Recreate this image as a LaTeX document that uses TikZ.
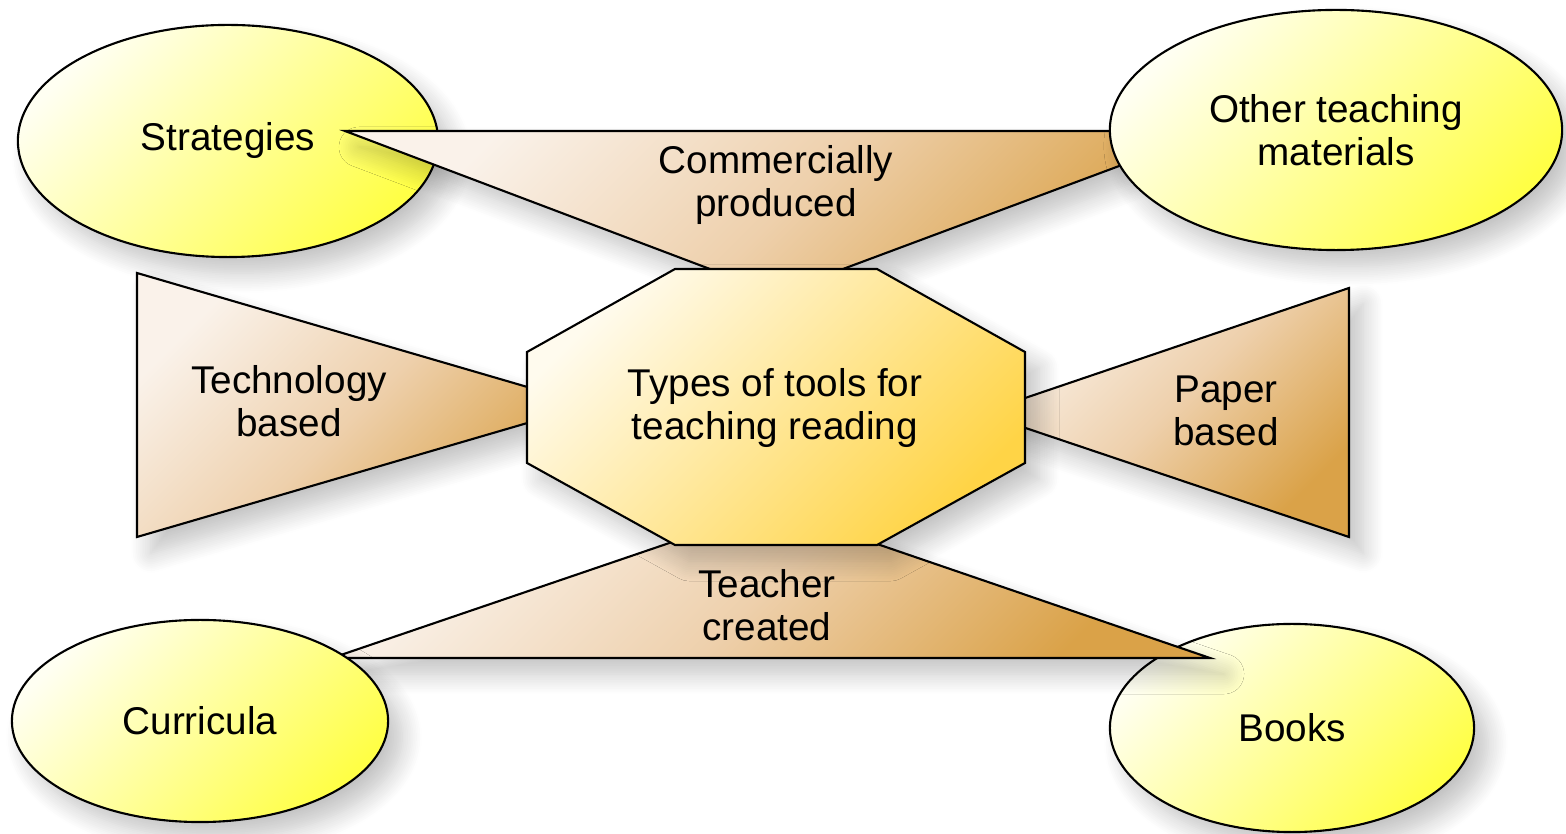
\documentclass[tikz,border=0pt]{standalone}
\usepackage{fontspec}
\setmainfont{Liberation Sans}
\usetikzlibrary{shapes.geometric, shadows.blur}

\definecolor{elllight}{RGB}{255,255,242}
\definecolor{elldark}{RGB}{255,255,70}
\definecolor{tanlight}{RGB}{250,242,234}
\definecolor{tanmid}{RGB}{238,208,172}
\definecolor{tandark}{RGB}{218,162,72}
\definecolor{octlight}{RGB}{255,251,238}
\definecolor{octdark}{RGB}{255,212,70}

\begin{document}
\begin{tikzpicture}[x=0.01cm, y=-0.01cm,
  every node/.style={font=\fontsize{11}{12.3}\selectfont, align=center, text=black},
  softshadow/.style={blur shadow={shadow xshift=1.4mm, shadow yshift=-1.6mm, shadow blur radius=2mm, shadow blur steps=12, shadow opacity=24}},
  bubble/.style={ellipse, draw=black, line width=0.6pt, inner sep=0pt,
    top color=elllight, bottom color=elldark, shading angle=45, softshadow},
  wedge/.style={draw=black, line width=0.6pt,
    top color=tanlight, bottom color=tandark, middle color=tanmid, shading angle=45, softshadow},
  hub/.style={draw=black, line width=0.6pt,
    top color=octlight, bottom color=octdark, shading angle=45, softshadow}]
  \useasboundingbox (0,0) rectangle (1566,834);

  % outer bubbles lying under the wedges
  \node[bubble, minimum width=4.2cm, minimum height=2.32cm] (strategies) at (228,141) {Strategies};
  \node[bubble, minimum width=3.64cm, minimum height=2.08cm] (books) at (1292,728) {Books};

  % the four wedges
  \path[wedge] (345,131) -- (1213,131) -- (776,294) -- cycle;
  \path[wedge] (137,273) -- (589,405) -- (137,537) -- cycle;
  \path[wedge] (1349,288) -- (981,413) -- (1349,537) -- cycle;
  \path[wedge] (332,658) -- (772,508) -- (1210,658) -- cycle;

  % outer bubbles lying over the wedges
  \node[bubble, minimum width=4.52cm, minimum height=2.4cm] (other) at (1336,130) {Other teaching\\materials};
  \node[bubble, minimum width=3.76cm, minimum height=2.02cm] (curricula) at (200,721) {Curricula};

  % centre octagon
  \path[hub] (675,269) -- (877,269) -- (1025,352) -- (1025,463) -- (877,545)
    -- (675,545) -- (527,463) -- (527,352) -- cycle;
  \node (tools) at (775,408) {Types of tools for\\teaching reading};

  \node (commercial) at (776,185) {Commercially\\produced};
  \node (technology) at (289,401) {Technology\\based};
  \node (paper) at (1226,411) {Paper\\based};
  \node (teacher) at (767,605) {Teacher\\created};
\end{tikzpicture}
\end{document}
